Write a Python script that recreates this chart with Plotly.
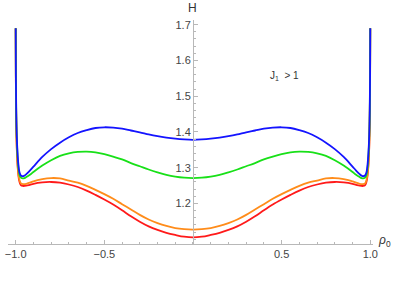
import plotly.graph_objects as go

rho0 = [-1.0, -0.999, -0.997, -0.994, -0.99, -0.985, -0.98, -0.975, -0.97, -0.96, -0.95, -0.94, -0.92, -0.9,
        -0.85, -0.8, -0.75, -0.7, -0.65, -0.6, -0.55, -0.5, -0.45, -0.4, -0.35, -0.3, -0.25, -0.2, -0.15, -0.1, -0.05,
        0.0,
        0.05, 0.1, 0.15, 0.2, 0.25, 0.3, 0.35, 0.4, 0.45, 0.5, 0.55, 0.6, 0.65, 0.7, 0.75, 0.8, 0.85,
        0.9, 0.92, 0.94, 0.95, 0.96, 0.97, 0.975, 0.98, 0.985, 0.99, 0.994, 0.997, 0.999, 1.0]

H_blue = [1.69, 1.56, 1.46, 1.39, 1.345, 1.31, 1.29, 1.282, 1.278, 1.276, 1.278, 1.282, 1.292, 1.303,
          1.33, 1.352, 1.370, 1.385, 1.397, 1.405, 1.411, 1.413, 1.412, 1.409, 1.404, 1.399, 1.393, 1.388, 1.384, 1.381, 1.379,
          1.378,
          1.379, 1.381, 1.384, 1.388, 1.393, 1.399, 1.404, 1.409, 1.412, 1.413, 1.411, 1.405, 1.397, 1.385, 1.370, 1.352, 1.33,
          1.303, 1.292, 1.282, 1.278, 1.276, 1.278, 1.282, 1.29, 1.31, 1.345, 1.39, 1.46, 1.56, 1.69]

H_green = [1.69, 1.55, 1.45, 1.38, 1.335, 1.30, 1.283, 1.275, 1.272, 1.270, 1.271, 1.274, 1.280, 1.288,
           1.306, 1.321, 1.333, 1.340, 1.344, 1.345, 1.343, 1.338, 1.331, 1.323, 1.313, 1.304, 1.295, 1.287, 1.280, 1.275, 1.272,
           1.271,
           1.272, 1.275, 1.280, 1.287, 1.295, 1.304, 1.313, 1.323, 1.331, 1.338, 1.343, 1.345, 1.344, 1.340, 1.333, 1.321, 1.306,
           1.288, 1.280, 1.274, 1.271, 1.270, 1.272, 1.275, 1.283, 1.30, 1.335, 1.38, 1.45, 1.55, 1.69]

H_orange = [1.69, 1.54, 1.43, 1.36, 1.315, 1.285, 1.268, 1.260, 1.256, 1.254, 1.254, 1.255, 1.258, 1.262,
            1.268, 1.271, 1.270, 1.264, 1.258, 1.249, 1.238, 1.226, 1.213, 1.198, 1.183, 1.168, 1.155, 1.145, 1.137, 1.131, 1.128,
            1.127,
            1.128, 1.131, 1.137, 1.145, 1.155, 1.168, 1.183, 1.198, 1.213, 1.226, 1.238, 1.249, 1.258, 1.264, 1.270, 1.271, 1.268,
            1.262, 1.258, 1.255, 1.254, 1.254, 1.256, 1.260, 1.268, 1.285, 1.315, 1.36, 1.43, 1.54, 1.69]

H_red = [1.69, 1.54, 1.43, 1.355, 1.31, 1.28, 1.263, 1.255, 1.251, 1.249, 1.249, 1.250, 1.252, 1.255,
         1.259, 1.260, 1.258, 1.253, 1.246, 1.236, 1.224, 1.211, 1.197, 1.181, 1.164, 1.149, 1.136, 1.126, 1.118, 1.112, 1.107,
         1.105,
         1.107, 1.112, 1.118, 1.126, 1.136, 1.149, 1.164, 1.181, 1.197, 1.211, 1.224, 1.236, 1.246, 1.253, 1.258, 1.260, 1.259,
         1.255, 1.252, 1.250, 1.249, 1.249, 1.251, 1.255, 1.263, 1.28, 1.31, 1.355, 1.43, 1.54, 1.69]

x_tickvals = [-1.0, -0.5, 0.5, 1.0]
x_ticktext = ["\u22121.0", "\u22120.5", "0.5", "1.0"]
y_tickvals = [1.2, 1.3, 1.4, 1.5, 1.6, 1.7]
y_ticktext = ["1.2", "1.3", "1.4", "1.5", "1.6", "1.7"]

series = [("red", H_red, "#ff1a1a"), ("orange", H_orange, "#ff8c1a"),
          ("green", H_green, "#18e018"), ("blue", H_blue, "#1414ff")]

fig = go.Figure()
for name, vals, col in series:
    fig.add_trace(go.Scatter(x=rho0, y=vals, mode="lines", name=name,
                             line=dict(color=col, width=1.8, shape="spline", smoothing=1.0),
                             hoverinfo="skip"))

axis_col = "#b8b8b8"
font_fam = "Liberation Sans, Arial, sans-serif"
tick_font = dict(family=font_fam, size=11, color="#444444")

fig.update_layout(
    width=398, height=286,
    margin=dict(l=5, r=25, t=20, b=42),
    paper_bgcolor="white", plot_bgcolor="white",
    showlegend=False,
    xaxis=dict(range=[-1.0434, 1.0154], showgrid=False, zeroline=False,
               showline=True, linecolor=axis_col, linewidth=1,
               tickmode="array", tickvals=x_tickvals, ticktext=x_ticktext,
               ticks="inside", ticklen=4, tickcolor=axis_col, tickwidth=1,
               minor=dict(tickmode="linear", tick0=0, dtick=0.1, ticks="inside", ticklen=2.5,
                          tickcolor=axis_col, showgrid=False),
               tickfont=tick_font),
    yaxis=dict(range=[1.0866, 1.713], showgrid=False, zeroline=False,
               anchor="free", position=(191.5 - 5) / 368, side="left",
               showline=True, linecolor=axis_col, linewidth=1,
               tickmode="array", tickvals=y_tickvals, ticktext=y_ticktext,
               ticks="inside", ticklen=4, tickcolor=axis_col, tickwidth=1,
               minor=dict(tickmode="linear", tick0=1.1, dtick=0.02, ticks="inside", ticklen=2.5,
                          tickcolor=axis_col, showgrid=False),
               tickfont=tick_font),
)

fig.add_annotation(x=0, xref="x", y=1, yref="paper", text="H", showarrow=False,
                   xanchor="center", yanchor="middle", yshift=12,
                   font=dict(family=font_fam, size=12, color="#333333"))
fig.add_annotation(x=1.0154, xref="x", y=1.0866, yref="y", text="<i>ρ</i><sub>0</sub>", showarrow=False,
                   xanchor="left", yanchor="middle", xshift=3, yshift=3,
                   font=dict(family=font_fam, size=12, color="#333333"))
fig.add_annotation(x=0.517, xref="x", y=1.557, yref="y", text="J<sub>1</sub>\u00a0\u00a0&gt;\u00a01", showarrow=False,
                   xanchor="center", yanchor="middle",
                   font=dict(family=font_fam, size=10, color="#333333"))

fig.write_html("out.html", config={"displayModeBar": False},
               post_script="document.body.style.margin='0';")
